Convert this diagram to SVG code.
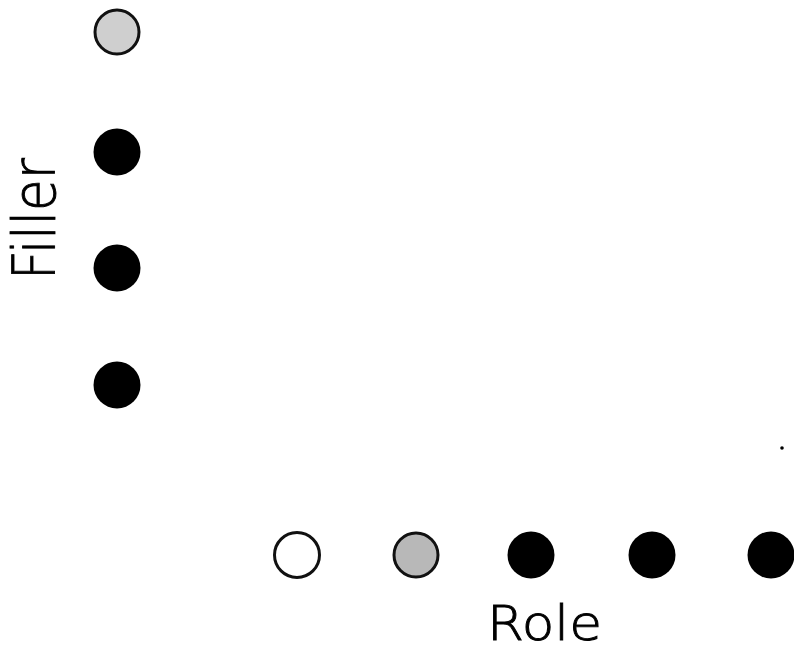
<svg xmlns="http://www.w3.org/2000/svg" width="794" height="653" viewBox="0 0 794 653">
<style>
.lbl{font-family:"DejaVu Sans","Liberation Sans",sans-serif;font-weight:200;fill:#000;stroke:#000;stroke-width:0.9}
.blk{fill:#000}
.gry{stroke:#111;stroke-width:3}
.opn{fill:#fff;stroke:#111;stroke-width:3}
</style>
<rect width="794" height="653" fill="#fff"/>
<g id="fillers">
<circle id="f1" class="gry" cx="117" cy="32" r="22" fill="#cfcfcf"/>
<circle id="f2" class="blk" cx="117" cy="152" r="23.5"/>
<circle id="f3" class="blk" cx="117" cy="268" r="23.5"/>
<circle id="f4" class="blk" cx="117" cy="385" r="23.5"/>
</g>
<g id="roles">
<circle id="r1" class="opn" cx="297" cy="555" r="22.5"/>
<circle id="r2" class="gry" cx="416" cy="555" r="22" fill="#b8b8b8"/>
<circle id="r3" class="blk" cx="531" cy="555" r="23.5"/>
<circle id="r4" class="blk" cx="652" cy="555" r="23.5"/>
<circle id="r5" class="blk" cx="771" cy="555" r="23.5"/>
</g>
<circle cx="782" cy="448" r="1.8" fill="#000"/>
<text class="lbl" font-size="58" transform="translate(55,280) rotate(-90)" textLength="122" lengthAdjust="spacingAndGlyphs">Filler</text>
<text class="lbl" font-size="48" x="487" y="640" textLength="115" lengthAdjust="spacingAndGlyphs">Role</text>
</svg>
